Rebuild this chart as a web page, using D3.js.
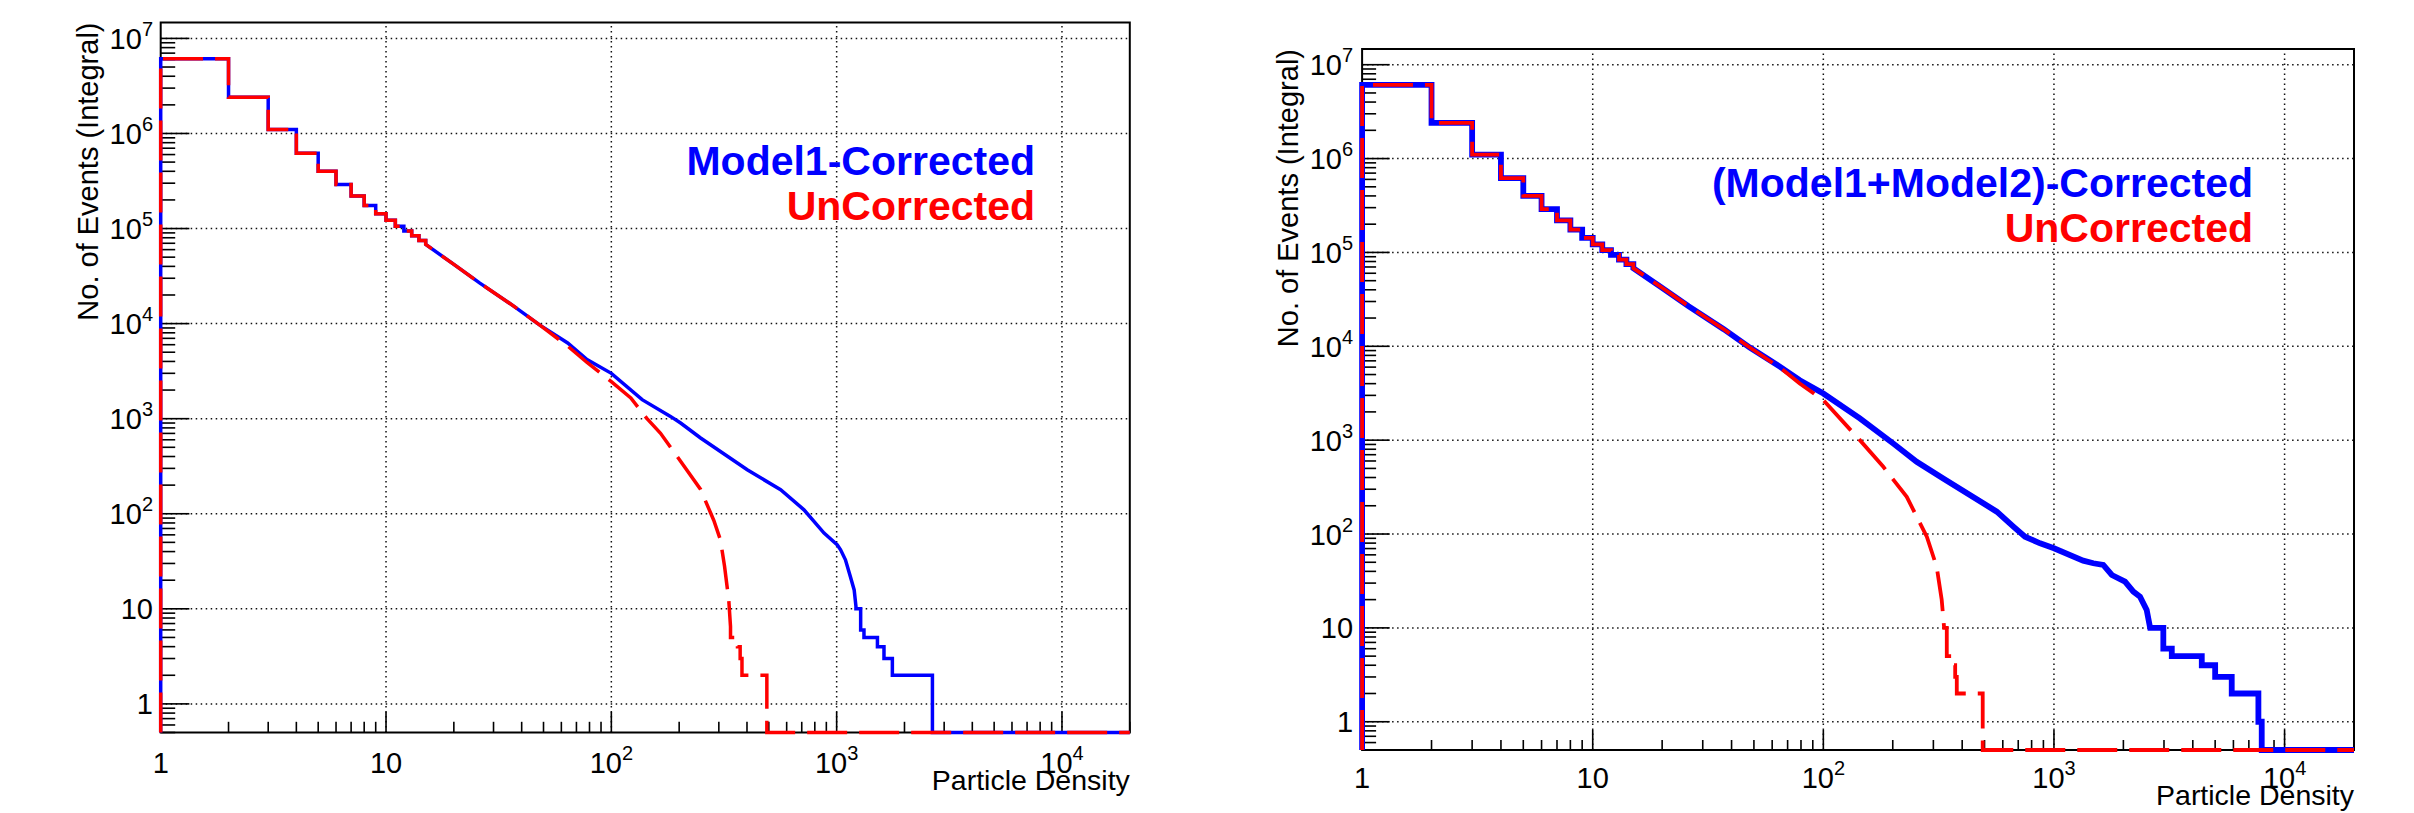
<!DOCTYPE html>
<html>
<head>
<meta charset="utf-8">
<script src="https://cdn.jsdelivr.net/npm/d3@7/dist/d3.min.js"></script>
<style>
    body { margin: 0; background: #fff; }
    text { font-family: "Liberation Sans", Arial, Helvetica, sans-serif; }
</style>
</head>
<body>
<div id="chart"></div>
<script>
// first bins (width 1), the same in all four histograms
var lowEdges = [1, 2, 3, 4, 5, 6, 7, 8, 9, 10, 11, 12, 13, 14, 15];
var lowCounts = [6.1e6, 2.4e6, 1.1e6, 6.2e5, 4.0e5, 2.9e5, 2.2e5, 1.75e5, 1.43e5, 1.22e5, 1.06e5, 9.4e4, 8.4e4, 7.5e4];
// where the bins get too narrow to see: read as a curve
var commonMid = [[15, 6.8e4], [20, 4.2e4], [26, 2.68e4], [37, 1.52e4], [48, 9700]];

// left panel: Model1-Corrected vs UnCorrected
var leftCorrected = [[64, 6260], [78, 4180], [100, 3000], [137, 1585], [183, 1057], [203, 901], [249, 627],
    [401, 290], [564, 179], [716, 110], [879, 62.6], [1007, 47], [1041, 41.8], [1094, 32.8], [1150, 21.9],
    [1196, 15.8], [1218, 10.6]];
var leftCorrectedTail = [[1218, 10], [1278, 6], [1322, 5], [1517, 4], [1622, 3], [1767, 2], [2661, 0]];
var leftUncorrected = [[64, 5800], [78, 3900], [100, 2450], [122, 1650], [144, 1000], [165, 707], [196, 401],
    [249, 180], [285, 85], [305, 53], [318, 28], [332, 12.4], [338, 6.5]];
var leftUncorrectedTail = [[338, 5], [363, 4], [373, 3], [380, 2], [490, 0]];

// right panel: (Model1+Model2)-Corrected vs UnCorrected
var rightCorrected = [[65, 6030], [79, 4350], [100, 3140], [144, 1702], [201, 922], [254, 588], [331, 391],
    [432, 260], [565, 173], [667, 120], [749, 93.6], [871, 79.6], [1000, 70.5], [1339, 52], [1482, 48.8],
    [1636, 46.8], [1782, 36.6], [2033, 31.1], [2209, 24.3], [2361, 21.5], [2524, 15.5], [2612, 10]];
var rightCorrectedTail = [[2612, 10], [2980, 6], [3243, 5], [4375, 4], [5000, 3], [5900, 2], [7700, 1], [7960, 0]];
var rightUncorrected = [[65, 5900], [79, 4010], [100, 2666], [144, 1000], [182, 520], [230, 249], [281, 93.6],
    [310, 44.9], [326, 19.9], [334, 10]];
var rightUncorrectedTail = [[343, 5], [366, 4], [373, 3], [379, 2], [491, 0]];

var xDomain = [1, 2e4];
var yDomain = [0.5, 1.47e7];
var xTitle = "Particle Density";
var yTitle = "No. of Events (Integral)";
var leftLegend = ["Model1-Corrected", "UnCorrected"];
var rightLegend = ["(Model1+Model2)-Corrected", "UnCorrected"];

var svg = d3.select("#chart")
    .append("svg")
    .attr("width", 2414)
    .attr("height", 813)
    .style("display", "block");

function isDecade(v) {
    var l = Math.log10(v);
    return Math.abs(l - Math.round(l)) < 1e-9;
}

function powerLabel(sel, v, supSize, supDy) {
    var e = Math.round(Math.log10(v));
    if (e <= 1) {
        sel.text(String(v));
        return;
    }
    sel.append("tspan").text("10");
    sel.append("tspan").attr("dy", supDy).style("font-size", supSize + "px").text(e);
}

function histPath(x, y, smooth, tail) {
    var yb = y.range()[0];
    function Y(n) { return n > 0 ? y(n) : yb; }
    var p = d3.path();
    p.moveTo(x(lowEdges[0]), yb);
    lowCounts.forEach(function(c, i) {
        p.lineTo(x(lowEdges[i]), Y(c));
        p.lineTo(x(lowEdges[i + 1]), Y(c));
    });
    var pts = commonMid.concat(smooth);
    pts.forEach(function(d) { p.lineTo(x(d[0]), Y(d[1])); });
    var prevY = Y(pts[pts.length - 1][1]);
    tail.forEach(function(d) {
        p.lineTo(x(d[0]), prevY);
        p.lineTo(x(d[0]), Y(d[1]));
        prevY = Y(d[1]);
    });
    p.lineTo(x.range()[1], yb);
    return p.toString();
}

function drawPanel(o) {
    var x = d3.scaleLog().domain(xDomain).range([o.left, o.right]);
    var y = d3.scaleLog().domain(yDomain).range([o.bottom, o.top]);
    var g = svg.append("g");

    var xt = x.ticks().filter(function(v) { return v >= xDomain[0] && v <= xDomain[1]; });
    var yt = y.ticks().filter(function(v) { return v >= yDomain[0] && v <= yDomain[1]; });

    // dotted grid
    g.selectAll("xgrid")
        .data(xt.filter(function(v) { return isDecade(v) && v > 1; }))
        .enter()
        .append("line")
        .attr("x1", function(d) { return x(d); })
        .attr("x2", function(d) { return x(d); })
        .attr("y1", o.bottom)
        .attr("y2", o.top)
        .attr("stroke", "#111")
        .attr("stroke-width", 1.5)
        .attr("stroke-dasharray", "1.5,3.5");
    g.selectAll("ygrid")
        .data(yt.filter(isDecade))
        .enter()
        .append("line")
        .attr("x1", o.left)
        .attr("x2", o.right)
        .attr("y1", function(d) { return y(d); })
        .attr("y2", function(d) { return y(d); })
        .attr("stroke", "#111")
        .attr("stroke-width", 1.5)
        .attr("stroke-dasharray", "1.5,3.5");

    // frame
    g.append("rect")
        .attr("x", o.left)
        .attr("y", o.top)
        .attr("width", o.right - o.left)
        .attr("height", o.bottom - o.top)
        .attr("fill", "none")
        .attr("stroke", "#000")
        .attr("stroke-width", 2);

    // ticks point into the frame
    g.selectAll("ytick")
        .data(yt)
        .enter()
        .append("line")
        .attr("x1", o.left)
        .attr("x2", function(d) { return o.left + (isDecade(d) ? o.yMajor : o.yMinor); })
        .attr("y1", function(d) { return y(d); })
        .attr("y2", function(d) { return y(d); })
        .attr("stroke", "#000")
        .attr("stroke-width", 1.6);
    g.selectAll("xtick")
        .data(xt.filter(function(v) { return v > 1; }))
        .enter()
        .append("line")
        .attr("x1", function(d) { return x(d); })
        .attr("x2", function(d) { return x(d); })
        .attr("y1", o.bottom)
        .attr("y2", function(d) { return o.bottom - (isDecade(d) ? o.xMajor : o.xMinor); })
        .attr("stroke", "#000")
        .attr("stroke-width", 1.6);

    // tick labels
    g.selectAll("ylab")
        .data(yt.filter(isDecade))
        .enter()
        .append("text")
        .attr("x", o.left - o.yLabelPad)
        .attr("y", function(d) { return y(d) + 10.5; })
        .attr("text-anchor", "end")
        .style("font-size", "29px")
        .each(function(d) { powerLabel(d3.select(this), d, 20, -13); });
    g.selectAll("xlab")
        .data(xt.filter(isDecade))
        .enter()
        .append("text")
        .attr("x", function(d) { return x(d); })
        .attr("y", o.bottom + o.xLabelDy)
        .attr("text-anchor", "middle")
        .style("font-size", "29px")
        .each(function(d) { powerLabel(d3.select(this), d, 20, -13); });

    // axis titles
    g.append("text")
        .attr("transform", "translate(" + o.yTitleX + "," + o.top + ") rotate(-90)")
        .attr("text-anchor", "end")
        .style("font-size", "29px")
        .text(yTitle);
    g.append("text")
        .attr("x", o.right)
        .attr("y", o.bottom + o.xTitleDy)
        .attr("text-anchor", "end")
        .style("font-size", "28.5px")
        .text(xTitle);

    // histograms
    g.append("path")
        .attr("d", histPath(x, y, o.corrected, o.correctedTail))
        .attr("fill", "none")
        .attr("stroke", "#0000ff")
        .attr("stroke-width", o.blueWidth)
        .attr("stroke-linejoin", "miter");
    g.append("path")
        .attr("d", histPath(x, y, o.uncorrected, o.uncorrectedTail))
        .attr("fill", "none")
        .attr("stroke", "#ff0000")
        .attr("stroke-width", o.redWidth)
        .attr("stroke-dasharray", "40,12")
        .attr("stroke-linejoin", "miter");

    // legend text
    g.selectAll("legend")
        .data(o.legend)
        .enter()
        .append("text")
        .attr("x", o.legendX)
        .attr("y", function(d, i) { return o.legendY[i]; })
        .attr("text-anchor", "end")
        .style("font-size", "41px")
        .style("font-weight", "bold")
        .style("fill", function(d, i) { return i === 0 ? "#0000ff" : "#ff0000"; })
        .text(function(d) { return d; });
}

drawPanel({
    left: 160.7, right: 1129.8, top: 22.5, bottom: 732.5,
    yMajor: 28.7, yMinor: 14.5, xMajor: 20.7, xMinor: 10.7,
    yLabelPad: 7.7, xLabelDy: 40.5, yTitleX: 97.5, xTitleDy: 57.5,
    legend: leftLegend, legendX: 1035, legendY: [175, 220],
    blueWidth: 3.5, redWidth: 3.5,
    corrected: leftCorrected, correctedTail: leftCorrectedTail,
    uncorrected: leftUncorrected, uncorrectedTail: leftUncorrectedTail
});

drawPanel({
    left: 1362.1, right: 2354, top: 49, bottom: 750,
    yMajor: 27.6, yMinor: 14, xMajor: 20, xMinor: 10,
    yLabelPad: 9, xLabelDy: 38.3, yTitleX: 1297.6, xTitleDy: 55,
    legend: rightLegend, legendX: 2253, legendY: [196.7, 241.7],
    blueWidth: 5.8, redWidth: 3.8,
    corrected: rightCorrected, correctedTail: rightCorrectedTail,
    uncorrected: rightUncorrected, uncorrectedTail: rightUncorrectedTail
});
</script>
</body>
</html>
